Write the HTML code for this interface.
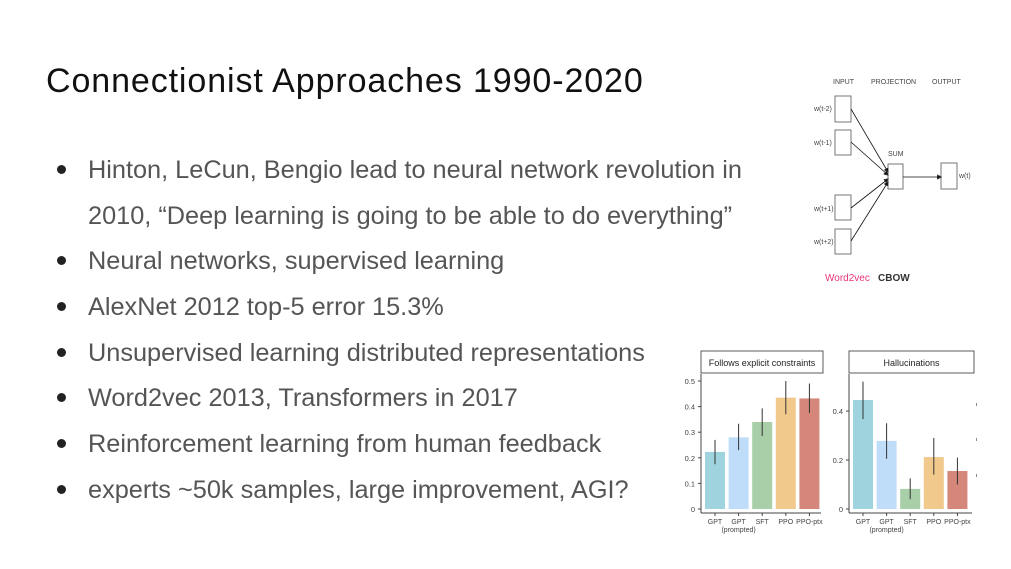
<!DOCTYPE html>
<html><head><meta charset="utf-8"><style>
body{margin:0;width:1011px;height:569px;background:#fff;font-family:"Liberation Sans",sans-serif;overflow:hidden;position:relative}
.t{position:absolute;white-space:nowrap}
.b{position:absolute;left:88px;font-size:25.3px;color:#555;line-height:1;white-space:nowrap}
.d{position:absolute;left:57px;width:9px;height:9px;border-radius:50%;background:#222}
</style></head><body>
<div class="t" style="left:46px;top:62px;font-size:34px;letter-spacing:0.9px;color:#111">Connectionist Approaches 1990-2020</div>
<div>
<div class="d" style="top:165px"></div><div class="b" style="top:158px">Hinton, LeCun, Bengio lead to neural network revolution in</div>
<div class="b" style="top:204px">2010, “Deep learning is going to be able to do everything”</div>
<div class="d" style="top:256px"></div><div class="b" style="top:249px">Neural networks, supervised learning</div>
<div class="d" style="top:302px"></div><div class="b" style="top:295px">AlexNet 2012 top-5 error 15.3%</div>
<div class="d" style="top:348px"></div><div class="b" style="top:341px">Unsupervised learning distributed representations</div>
<div class="d" style="top:393px"></div><div class="b" style="top:386px">Word2vec 2013, Transformers in 2017</div>
<div class="d" style="top:439px"></div><div class="b" style="top:432px">Reinforcement learning from human feedback</div>
<div class="d" style="top:485px"></div><div class="b" style="top:478px">experts ~50k samples, large improvement, AGI?</div>
</div>
<svg width="1011" height="569" style="position:absolute;left:0;top:0" font-family="Liberation Sans, sans-serif">
<g fill="none" stroke="#555" stroke-width="0.8">
<defs><marker id="ah" markerWidth="6" markerHeight="6" refX="5" refY="3" orient="auto"><path d="M0,0L6,3L0,6z" fill="#111"/></marker></defs>
<rect x="835" y="96" width="16" height="26"/><rect x="835" y="130" width="16" height="25"/>
<rect x="835" y="195" width="16" height="25"/><rect x="835" y="229" width="16" height="25"/>
<rect x="888" y="164" width="15" height="25"/><rect x="941" y="163" width="16" height="26"/>
<g stroke="#111"><line x1="851" y1="109" x2="888" y2="172" marker-end="url(#ah)"/><line x1="851" y1="142" x2="888" y2="175" marker-end="url(#ah)"/>
<line x1="851" y1="208" x2="888" y2="179" marker-end="url(#ah)"/><line x1="851" y1="241" x2="888" y2="182" marker-end="url(#ah)"/>
<line x1="903" y1="177" x2="941" y2="177" marker-end="url(#ah)"/></g>
<g fill="#444" stroke="none" font-size="7"><text x="833" y="84">INPUT</text><text x="871" y="84">PROJECTION</text><text x="932" y="84">OUTPUT</text>
<text x="814" y="111">w(t-2)</text><text x="814" y="145">w(t-1)</text><text x="814" y="211">w(t+1)</text><text x="814" y="244">w(t+2)</text>
<text x="888" y="156">SUM</text><text x="959" y="178">w(t)</text></g>
<text x="825" y="281" font-size="10" fill="#e8337a" stroke="none">Word2vec</text><text x="878" y="281" font-size="10" font-weight="bold" fill="#333" stroke="none">CBOW</text>
</g>
<g id="charts"></g>
</svg>
<script>
const cats=["GPT","GPT","SFT","PPO","PPO-ptx"];
const colors=["#9fd4df","#bfdcf8","#a8cfa8","#f2c98c","#d4877a"];
const leftVals=[0.223,0.28,0.34,0.435,0.432];
const leftLo=[0.175,0.23,0.285,0.37,0.375];
const leftHi=[0.27,0.333,0.393,0.5,0.49];
const leftTicks=[0,0.1,0.2,0.3,0.4,0.5];
const rightVals=[0.445,0.278,0.082,0.212,0.155];
const rightLo=[0.367,0.205,0.04,0.14,0.1];
const rightHi=[0.52,0.35,0.125,0.29,0.21];
const rightTicks=[0,0.2,0.4];
const NS="http://www.w3.org/2000/svg";
const g=document.getElementById('charts');
function mk(t,a,p){const e=document.createElementNS(NS,t);for(const k in a)e.setAttribute(k,a[k]);(p||g).appendChild(e);return e;}
function panel(name,title,x0,x1,pxPerUnit,vals,lo,hi,ticks,tickFmt){
 const grp=mk('g',{});
 
 
 const y0=509,y=v=>y0-v*pxPerUnit;
 const hd=mk('rect',{x:x0,y:351,width:x1-x0,height:22,fill:'#fff',stroke:'#333','stroke-width':0.8},grp);
 
 
 const ht=mk('text',{x:(x0+x1)/2,y:366,'text-anchor':'middle','font-size':9,fill:'#222'},grp);ht.textContent=title;
 mk('line',{x1:x0,y1:374,x2:x0,y2:513,stroke:'#444','stroke-width':1},grp);
 mk('line',{x1:x0,y1:513,x2:x1-2,y2:513,stroke:'#444','stroke-width':1},grp);
 ticks.forEach(t=>{mk('line',{x1:x0-3,x2:x0,y1:y(t),y2:y(t),stroke:'#444'},grp);
  const tx=mk('text',{x:x0-6,y:y(t)+3,'text-anchor':'end','font-size':7.5,fill:'#444'},grp);tx.textContent=tickFmt(t);});
 const step=23.6;
 vals.forEach((v,i)=>{const bx=x0+4+i*step;
  const r=mk('rect',{x:bx,y:y(v),width:20,height:v*pxPerUnit,fill:colors[i]},grp);
  
  
  mk('line',{x1:bx+10,x2:bx+10,y1:y(hi[i]),y2:y(lo[i]),stroke:'#333','stroke-width':1},grp);
  mk('line',{x1:bx+10,x2:bx+10,y1:513,y2:516,stroke:'#444'},grp);
  const l=mk('text',{x:bx+10,y:524,'text-anchor':'middle','font-size':7,fill:'#444'},grp);l.textContent=cats[i];
  if(i==1){const l2=mk('text',{x:bx+10,y:532,'text-anchor':'middle','font-size':7,fill:'#444'},grp);l2.textContent='(prompted)';}
 });
}
panel('constraints-chart','Follows explicit constraints',701,823,256,leftVals,leftLo,leftHi,leftTicks,t=>t===0?'0':t.toFixed(1));
panel('hallucinations-chart','Hallucinations',849,974,245,rightVals,rightLo,rightHi,rightTicks,t=>t===0?'0':t.toFixed(1));
[403,438,474].forEach(yy=>mk('rect',{x:976,y:yy,width:1,height:3,fill:'#888'}));
</script>
</body></html>
